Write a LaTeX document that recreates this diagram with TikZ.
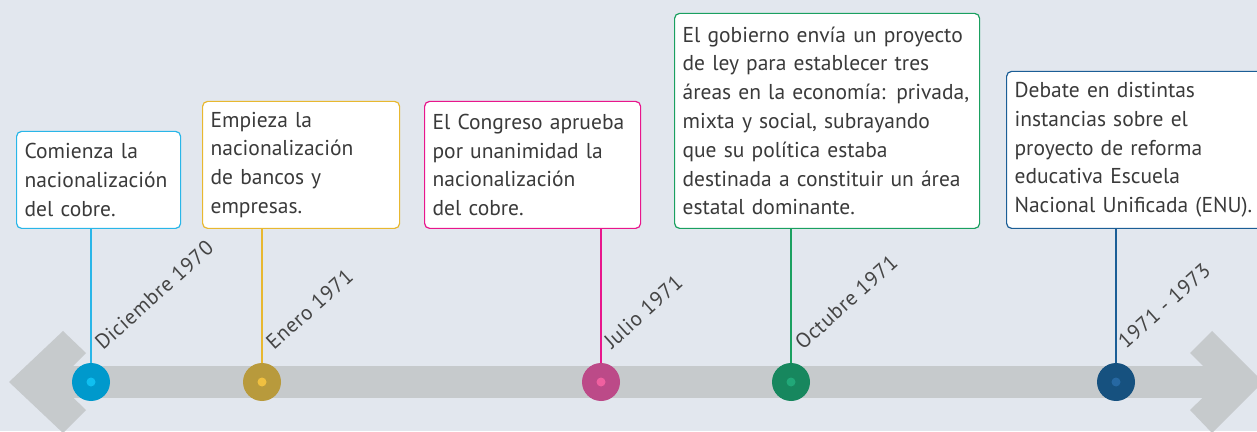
\documentclass[tikz,border=0pt]{standalone}
\usepackage{fontspec}
\setmainfont{PT Sans}
\newfontfamily\datefont[LetterSpace=3]{PT Sans}
\begin{document}
\begin{tikzpicture}[x=1pt,y=1pt,
  box/.style={draw, rounded corners=5pt, fill=white, line width=1.2pt, align=left,
    anchor=south west, inner xsep=8pt, inner ysep=4pt, text=txt,
    font=\fontsize{21.5}{28.8}\selectfont},
  datelbl/.style={rotate=42, anchor=base west, text=dtxt, inner sep=0pt,
    font=\datefont\fontsize{21}{24}\selectfont},
  conn/.style={line width=1.2pt},
  dot/.style={circle, minimum size=38pt, inner sep=0pt},
  core/.style={circle, minimum size=9pt, inner sep=0pt}]
\definecolor{bg}{HTML}{E2E7EE}
\definecolor{bar}{HTML}{C6CACC}
\definecolor{txt}{HTML}{3A3A3A}
\definecolor{dtxt}{HTML}{454545}
\definecolor{cA}{HTML}{29B6E8}\definecolor{dA}{HTML}{0099CC}\definecolor{iA}{HTML}{10BFF0}
\definecolor{cB}{HTML}{E8B830}\definecolor{dB}{HTML}{B89A3C}\definecolor{iB}{HTML}{F0C040}
\definecolor{cC}{HTML}{E8168C}\definecolor{dC}{HTML}{BC4A88}\definecolor{iC}{HTML}{F060A0}
\definecolor{cD}{HTML}{1AA060}\definecolor{dD}{HTML}{17875E}\definecolor{iD}{HTML}{21A878}
\definecolor{cE}{HTML}{1B5E96}\definecolor{dE}{HTML}{16517F}\definecolor{iE}{HTML}{2668A2}
\useasboundingbox (0,0) rectangle (1257,431);
\clip (0,0) rectangle (1257,431);
\fill[bg] (0,0) rectangle (1257,431);
% timeline bar and arrowheads
\fill[bar] (45,33) rectangle (1230,65);
\fill[bar] (63,100) -- (9,49) -- (63,-2) -- (86,21) -- (57,49) -- (86,78) -- cycle;
\fill[bar] (1212,100) -- (1263,49) -- (1212,-2) -- (1190,21) -- (1219,49) -- (1190,78) -- cycle;
% boxes
\node[box, draw=cA, text width=148pt, minimum height=97pt] (b1) at (16,202)
  {Comienza la\\nacionalización\\del cobre.};
\node[box, draw=cB, text width=181pt, minimum height=127pt] (b2) at (202,202)
  {Empieza la\\nacionalización\\de bancos y\\empresas.};
\node[box, draw=cC, text width=200pt, minimum height=127pt] (b3) at (424,202)
  {El Congreso aprueba\\por unanimidad la\\nacionalización\\del cobre.};
\node[box, draw=cD, text width=289pt, minimum height=215pt] (b4) at (674,202)
  {El gobierno envía un proyecto\\de ley para establecer tres\\áreas en la economía: privada,\\mixta y social, subrayando\\que su política estaba\\destinada a constituir un área\\estatal dominante.};
\node[box, draw=cE, text width=270pt, minimum height=157pt] (b5) at (1006,202)
  {Debate en distintas\\instancias sobre el\\proyecto de reforma\\educativa Escuela\\Nacional Unificada (ENU).};
% dots
\coordinate (d1) at (91,49);
\coordinate (d2) at (262,49);
\coordinate (d3) at (601,49);
\coordinate (d4) at (791,49);
\coordinate (d5) at (1116,49);
\draw[conn, cA] (b1.south -| d1) -- (d1);
\draw[conn, cB] (b2.south -| d2) -- (d2);
\draw[conn, cC] (b3.south -| d3) -- (d3);
\draw[conn, cD] (b4.south -| d4) -- (d4);
\draw[conn, cE] (b5.south -| d5) -- (d5);
\node[dot, fill=dA] (o1) at (d1) {}; \node[core, fill=iA] at (o1) {};
\node[dot, fill=dB] (o2) at (d2) {}; \node[core, fill=iB] at (o2) {};
\node[dot, fill=dC] (o3) at (d3) {}; \node[core, fill=iC] at (o3) {};
\node[dot, fill=dD] (o4) at (d4) {}; \node[core, fill=iD] at (o4) {};
\node[dot, fill=dE] (o5) at (d5) {}; \node[core, fill=iE] at (o5) {};
% date labels
\node[datelbl] (t1) at (103,80) {Diciembre 1970};
\node[datelbl] (t2) at (274,80) {Enero 1971};
\node[datelbl] (t3) at (612,81) {Julio 1971};
\node[datelbl] (t4) at (803,80) {Octubre 1971};
\node[datelbl] (t5) at (1126,81) {1971 - 1973};
\end{tikzpicture}
\end{document}
